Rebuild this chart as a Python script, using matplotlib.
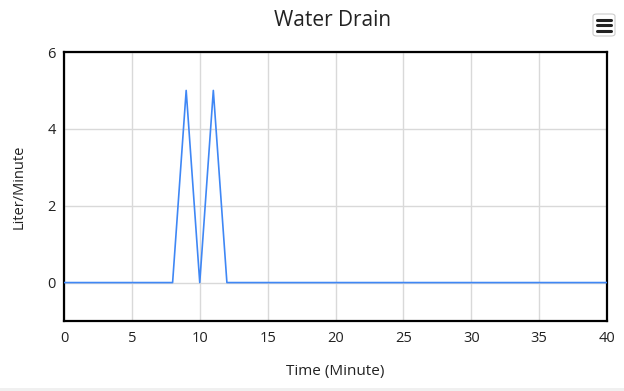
import matplotlib
matplotlib.use("Agg")
import matplotlib.pyplot as plt
from matplotlib.patches import FancyBboxPatch, Rectangle

time_min = list(range(0, 41))
drain = [0, 0, 0, 0, 0, 0, 0, 0, 0, 5, 0, 5, 0,
         0, 0, 0, 0, 0, 0, 0, 0, 0, 0, 0, 0, 0, 0, 0, 0, 0,
         0, 0, 0, 0, 0, 0, 0, 0, 0, 0, 0]
x_ticks = [0, 5, 10, 15, 20, 25, 30, 35, 40]
y_ticks = [0, 2, 4, 6]
title = "Water Drain"
x_label = "Time (Minute)"
y_label = "Liter/Minute"

plt.rcParams['font.family'] = ['Open Sans', 'DejaVu Sans']

W, H = 624, 391
fig = plt.figure(figsize=(W / 100, H / 100), dpi=100)
left, right, top, bottom = 64, 607, 52, 321
ax = fig.add_axes([left / W, 1 - bottom / H, (right - left) / W, (bottom - top) / H])

ax.plot(time_min, drain, color='#3f87f5', linewidth=1.2, zorder=3)
ax.set_xlim(0, 40)
ax.set_ylim(-1, 6)
ax.set_xticks(x_ticks)
ax.set_yticks(y_ticks)
ax.grid(True, color='#d9d9d9', linewidth=1.0, zorder=0)
ax.set_axisbelow(True)
for s in ax.spines.values():
    s.set_color('black')
    s.set_linewidth(1.6)
ax.tick_params(length=0, labelsize=10.5, colors='#222222')
ax.tick_params(axis='x', pad=7)
ax.tick_params(axis='y', pad=6)
ax.set_xlabel(x_label, fontsize=11, color='#222222', labelpad=13)
ax.set_ylabel(y_label, fontsize=10.5, color='#222222', labelpad=15)

fig.text(333 / W, 1 - 21 / H, title, ha='center', va='center',
         fontsize=15, color='#222222')

# menu icon
bx, by, bw, bh = 593, 14, 22, 22
fig.patches.append(FancyBboxPatch((bx / W, 1 - (by + bh) / H), bw / W, bh / H,
                                  boxstyle="round,pad=0,rounding_size=0.006",
                                  transform=fig.transFigure, facecolor='white',
                                  edgecolor='#cccccc', linewidth=0.8))
for yy in (19.5, 25, 30.5):
    fig.add_artist(plt.Line2D([(bx + 4) / W, (bx + bw - 4) / W], [1 - yy / H, 1 - yy / H],
                              transform=fig.transFigure, color='#222222', linewidth=2.2,
                              solid_capstyle='round'))

fig.patches.append(Rectangle((0, 0), 1, 3 / H, transform=fig.transFigure,
                             facecolor='#f0f0f0', edgecolor='none'))

fig.savefig("out.png", dpi=100)
